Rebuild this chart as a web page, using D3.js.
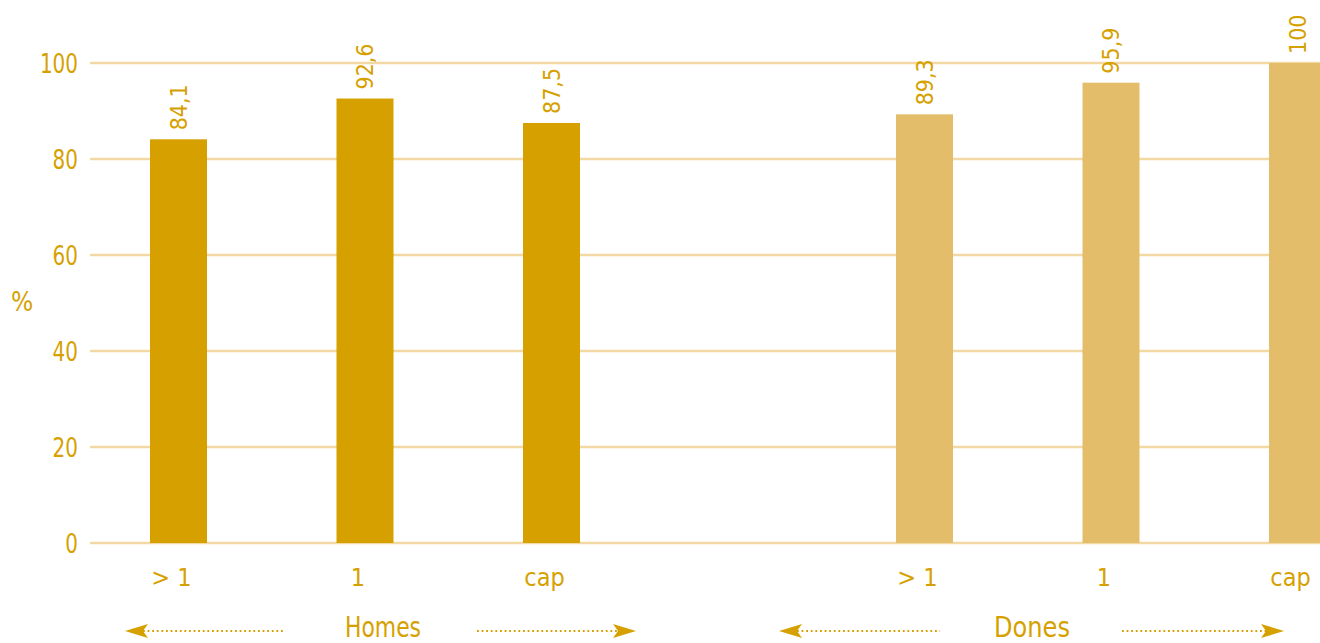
<!DOCTYPE html>
<html><head><meta charset="utf-8">
<script src="https://cdn.jsdelivr.net/npm/d3@7"></script>
<style>
html,body{margin:0;padding:0;background:#fff;}
svg{display:block;}
text{font-family:"DejaVu Sans Condensed","DejaVu Sans",sans-serif;font-stretch:condensed;fill:#D6A100;}
</style></head>
<body>
<script>
const categories = [">1 H", "1 H", "cap H", "gap", ">1 D", "1 D", "cap D"];
const catLabels = ["> 1", "1", "cap", "", "> 1", "1", "cap"];
const groupOf = ["Homes","Homes","Homes",null,"Dones","Dones","Dones"];
const values = [84.1, 92.6, 87.5, null, 89.3, 95.9, 100];
const valueLabels = ["84,1","92,6","87,5","","89,3","95,9","100"];
const yTicks = [0, 20, 40, 60, 80, 100];
const groups = ["Homes", "Dones"];

const W = 1320, H = 643;
const colors = {Homes:"#D5A000", Dones:"#E4BD6A"};
const gridColor = "#F2D8A2";
const textColor = "#D6A100";

const svg = d3.select("body").append("svg").attr("width", W).attr("height", H);

const y = d3.scaleLinear().domain([0, 100]).range([543, 63]);
const x = d3.scalePoint().domain(categories).range([178.5, 1297.5]);
const barW = 57;

svg.append("g").selectAll("line").data(yTicks).join("line")
  .attr("x1", 90).attr("x2", W)
  .attr("y1", d => y(d)).attr("y2", d => y(d))
  .attr("stroke", gridColor).attr("stroke-width", 2.5);

svg.append("g").selectAll("text").data(yTicks).join("text")
  .attr("x", 78).attr("y", d => y(d) + 9.5)
  .attr("text-anchor", "end").attr("font-size", 26)
  .attr("textLength", d => String(d).length * 12.7).attr("lengthAdjust", "spacingAndGlyphs")
  .text(d => d);

svg.append("text").attr("x", 11).attr("y", 311).attr("font-size", 26).text("%");

const idx = d3.range(categories.length).filter(i => values[i] != null);

svg.append("g").selectAll("rect").data(idx).join("rect")
  .attr("x", i => x(categories[i]) - barW/2)
  .attr("width", barW)
  .attr("y", i => y(values[i]))
  .attr("height", i => y(0) - y(values[i]))
  .attr("fill", i => colors[groupOf[i]]);

svg.append("g").selectAll("text").data(idx).join("text")
  .attr("transform", i => `translate(${x(categories[i]) + 8},${y(values[i]) - 9}) rotate(-90)`)
  .attr("font-size", 23)
  .text(i => valueLabels[i]);

svg.append("g").selectAll("text").data(idx).join("text")
  .attr("x", i => x(categories[i]) - 7).attr("y", 586)
  .attr("text-anchor", "middle").attr("font-size", 25)
  .text(i => catLabels[i]);

const ann = [
  {name: groups[0], lt: 125, le: 285, cx: 383, rs: 477, rt: 636},
  {name: groups[1], lt: 779, le: 940, cx: 1032, rs: 1122, rt: 1284}
];
const ay = 631;
const ag = svg.append("g");
ann.forEach(a => {
  ag.append("text").attr("x", a.cx).attr("y", 637).attr("text-anchor", "middle")
    .attr("font-size", 28).attr("textLength", 76).attr("lengthAdjust", "spacingAndGlyphs")
    .text(a.name);
  ag.append("line").attr("x1", a.lt + 18).attr("x2", a.le).attr("y1", ay).attr("y2", ay)
    .attr("stroke", textColor).attr("stroke-width", 2.2).attr("stroke-dasharray", "1.8,2.8");
  ag.append("line").attr("x1", a.rs).attr("x2", a.rt - 18).attr("y1", ay).attr("y2", ay)
    .attr("stroke", textColor).attr("stroke-width", 2.2).attr("stroke-dasharray", "1.8,2.8");
  ag.append("path").attr("fill", textColor)
    .attr("d", `M${a.lt},${ay} L${a.lt+23},${ay-7} L${a.lt+18},${ay} L${a.lt+23},${ay+7} Z`);
  ag.append("path").attr("fill", textColor)
    .attr("d", `M${a.rt},${ay} L${a.rt-23},${ay-7} L${a.rt-18},${ay} L${a.rt-23},${ay+7} Z`);
});
</script>
</body></html>
